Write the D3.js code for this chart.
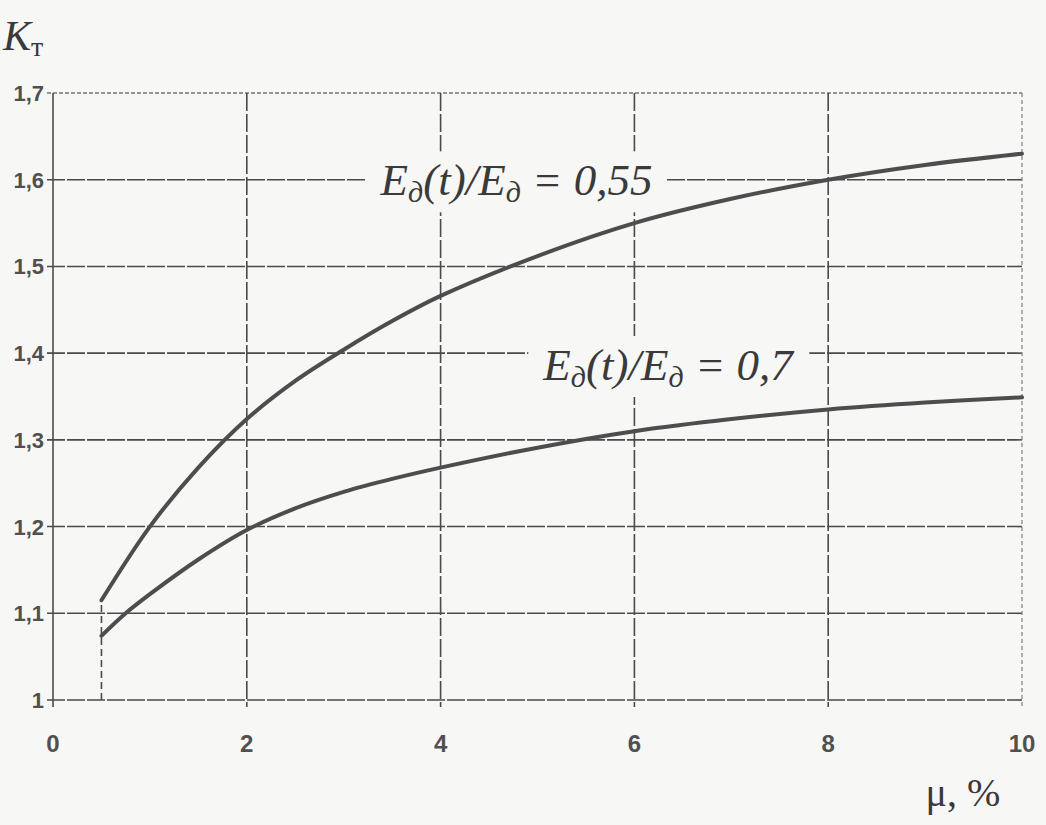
<!DOCTYPE html>
<html><head><meta charset="utf-8">
<script src="https://cdn.jsdelivr.net/npm/d3@7"></script>
<style>
body{margin:0;background:#f7f7f6;}
svg{display:block;}
</style></head>
<body>
<svg id="chart" width="1046" height="825"></svg>
<script>
// ---- data ----
const xTicks = [0, 2, 4, 6, 8, 10];
const yTicks = [1, 1.1, 1.2, 1.3, 1.4, 1.5, 1.6, 1.7];
const xTickLabels = ["0", "2", "4", "6", "8", "10"];
const yTickLabels = ["1", "1,1", "1,2", "1,3", "1,4", "1,5", "1,6", "1,7"];
const muUpper = [0.5, 1.0, 1.5, 2.0, 2.5, 3.0, 3.5, 4.0, 5.0, 6.0, 7.0, 8.0, 9.0, 10.0];
const kUpper  = [1.115, 1.2, 1.268, 1.324, 1.368, 1.404, 1.437, 1.466, 1.512, 1.55, 1.578, 1.6, 1.617, 1.63];
const muLower = [0.5, 0.75, 1.0, 1.5, 2.0, 2.5, 3.0, 3.5, 4.0, 5.0, 6.0, 7.0, 8.0, 9.0, 10.0];
const kLower  = [1.074, 1.1, 1.122, 1.162, 1.196, 1.221, 1.24, 1.255, 1.268, 1.291, 1.31, 1.324, 1.335, 1.343, 1.349];
const seriesLabels = ["0,55", "0,7"];
const startMu = 0.5;

// ---- layout ----
const svg = d3.select("#chart");
const x = d3.scaleLinear().domain([0, 10]).range([53, 1022]);
const y = d3.scaleLinear().domain([1, 1.7]).range([700, 93]);
const ink = "#4a4a4a";

// grid horizontal
yTicks.forEach((v, i) => {
  const top = i === yTicks.length - 1;
  svg.append("line")
    .attr("x1", x(0) - 6).attr("x2", x(10))
    .attr("y1", y(v)).attr("y2", y(v))
    .attr("stroke", top ? "#777" : ink)
    .attr("stroke-width", top ? 1.3 : 1.6)
    .attr("stroke-dasharray", top ? "4,2" : "18,2");
});
// grid vertical
xTicks.forEach((v, i) => {
  const right = i === xTicks.length - 1;
  svg.append("line")
    .attr("x1", x(v)).attr("x2", x(v))
    .attr("y1", y(1.7)).attr("y2", y(1) + 7)
    .attr("stroke", right ? "#888" : ink)
    .attr("stroke-width", right ? 1.3 : 1.6)
    .attr("stroke-dasharray", right ? "4,3" : (i === 0 ? null : "18,3"));
});
// start marker line
svg.append("line")
  .attr("x1", x(startMu)).attr("x2", x(startMu))
  .attr("y1", y(1)).attr("y2", y(kUpper[0]))
  .attr("stroke", ink).attr("stroke-width", 1.6)
  .attr("stroke-dasharray", "7,4");

// series labels with paper-coloured background (drawn before curves)
function seriesLabel(mu, k, val) {
  const g = svg.append("g");
  const rect = g.append("rect").attr("fill", "#f7f7f6");
  const t = g.append("text")
    .attr("x", x(mu)).attr("y", y(k))
    .attr("font-family", "'Liberation Serif', 'DejaVu Serif', serif")
    .attr("font-style", "italic").attr("font-size", 45).attr("fill", "#3a3a3a");
  t.append("tspan").text("E");
  t.append("tspan").text("д").attr("font-size", 30).attr("dy", 7);
  t.append("tspan").text("(t)/E").attr("dy", -7);
  t.append("tspan").text("д").attr("font-size", 30).attr("dy", 7);
  t.append("tspan").text(" = " + val).attr("dy", -7);
  const b = t.node().getBBox();
  rect.attr("x", b.x - 14).attr("y", b.y - 4).attr("width", b.width + 28).attr("height", b.height + 8);
}
seriesLabel(3.38, 1.582, seriesLabels[0]);
seriesLabel(5.06, 1.369, seriesLabels[1]);

// curves
const line = d3.line().x(d => x(d[0])).y(d => y(d[1])).curve(d3.curveCatmullRom.alpha(0.5));
[[muUpper, kUpper], [muLower, kLower]].forEach(([mu, k]) => {
  svg.append("path")
    .attr("d", line(mu.map((m, i) => [m, k[i]])))
    .attr("fill", "none").attr("stroke", "#4d4d4d")
    .attr("stroke-width", 4).attr("stroke-linecap", "round");
});

// tick labels
const tickFont = "'Liberation Sans', Arial, sans-serif";
yTicks.forEach((v, i) => {
  svg.append("text").text(yTickLabels[i])
    .attr("x", 44).attr("y", y(v) + 8)
    .attr("text-anchor", "end")
    .attr("font-family", tickFont).attr("font-size", 22)
    .attr("font-weight", "bold").attr("fill", "#505050");
});
xTicks.forEach((v, i) => {
  svg.append("text").text(xTickLabels[i])
    .attr("x", x(v)).attr("y", 752)
    .attr("text-anchor", "middle")
    .attr("font-family", tickFont).attr("font-size", 24)
    .attr("font-weight", "bold").attr("fill", "#505050");
});

// axis titles
const yt = svg.append("text").attr("x", 3).attr("y", 50)
  .attr("font-family", "'Liberation Serif', serif").attr("font-style", "italic")
  .attr("font-size", 42).attr("fill", "#3a3a3a");
yt.append("tspan").text("K");
yt.append("tspan").text("т").attr("font-size", 28).attr("dy", 6).attr("font-style", "normal");

svg.append("text").text("μ, %")
  .attr("x", 963).attr("y", 806).attr("text-anchor", "middle")
  .attr("font-family", "'Liberation Serif', serif")
  .attr("font-size", 40).attr("fill", "#3a3a3a");
</script>
</body></html>
